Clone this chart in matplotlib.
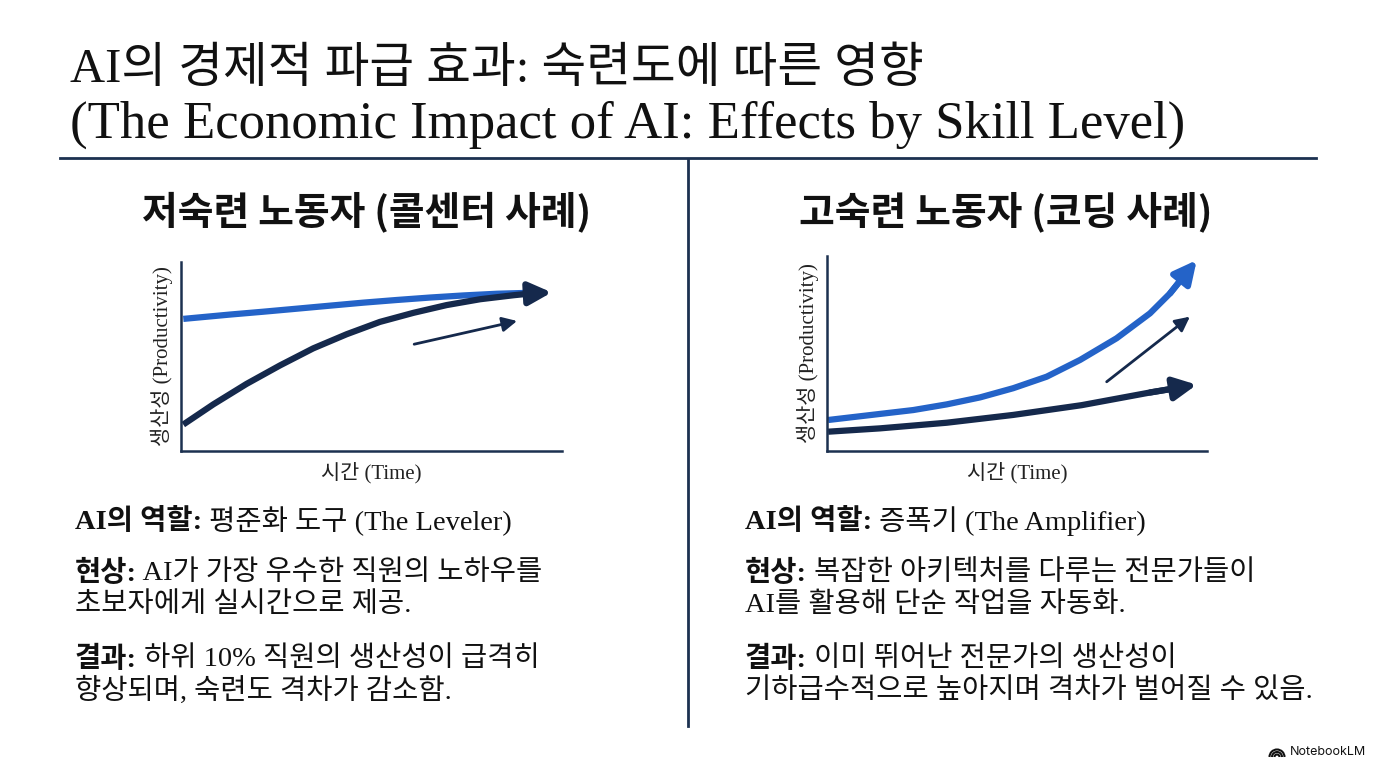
import matplotlib
matplotlib.use("Agg")
import matplotlib.pyplot as plt
from matplotlib.patches import Arc

plt.rcParams["font.family"] = ["Liberation Serif", "Noto Sans CJK KR"]

W, H = 1376, 768

# ---- data (both small charts run 0..10 on each axis) ----
# left: 저숙련 (call centre)
low_ai_x = [0.06, 1.29, 2.16, 3.04, 3.91, 4.79, 5.66, 6.54, 7.41, 8.29, 9.16]
low_ai = [6.99, 7.22, 7.37, 7.53, 7.69, 7.85, 7.99, 8.12, 8.23, 8.32, 8.37]
low_nov_x = [0.06, 0.85, 1.72, 2.60, 3.47, 4.35, 5.22, 6.10, 6.97, 7.85, 8.72, 9.16, 9.73]
low_nov = [1.40, 2.47, 3.55, 4.53, 5.43, 6.18, 6.83, 7.31, 7.72, 8.03, 8.24, 8.33, 8.39]
low_hint_x = [6.12, 8.82]
low_hint_y = [5.65, 6.88]

# right: 고숙련 (coding)
high_ai_x = [0.03, 1.39, 2.27, 3.15, 4.03, 4.90, 5.78, 6.66, 7.62, 8.50, 9.03, 9.73]
high_ai = [1.59, 1.90, 2.10, 2.39, 2.75, 3.22, 3.81, 4.67, 5.78, 7.06, 8.09, 9.79]
high_base_x = [0.03, 1.39, 3.15, 4.90, 6.70, 8.50, 9.73]
high_base = [0.99, 1.16, 1.45, 1.85, 2.35, 3.00, 3.40]
high_hint_x = [7.36, 9.55]
high_hint_y = [3.55, 6.89]

title1 = "AI의 경제적 파급 효과: 숙련도에 따른 영향"
title2 = "(The Economic Impact of AI: Effects by Skill Level)"
head_left = "저숙련 노동자 (콜센터 사례)"
head_right = "고숙련 노동자 (코딩 사례)"
xlabel = "시간 (Time)"
ylabel = "생산성 (Productivity)"

body_left = [
    ("AI의 역할:", " 평준화 도구 (The Leveler)"),
    ("현상:", " AI가 가장 우수한 직원의 노하우를"),
    ("", "초보자에게 실시간으로 제공."),
    ("결과:", " 하위 10% 직원의 생산성이 급격히"),
    ("", "향상되며, 숙련도 격차가 감소함."),
]
body_right = [
    ("AI의 역할:", " 증폭기 (The Amplifier)"),
    ("현상:", " 복잡한 아키텍처를 다루는 전문가들이"),
    ("", "AI를 활용해 단순 작업을 자동화."),
    ("결과:", " 이미 뛰어난 전문가의 생산성이"),
    ("", "기하급수적으로 높아지며 격차가 벌어질 수 있음."),
]
body_y = [521, 573, 605, 659, 691]

BLUE = "#2463c8"
NAVY = "#15294c"
RULE = "#1c3150"
INK = "#111111"


def fx(px):
    return px / W


def fy(py):
    return 1 - py / H


fig = plt.figure(figsize=(W / 100, H / 100), dpi=100)
fig.patch.set_facecolor("white")

# title
fig.text(fx(70), fy(70), title1, fontsize=35, fontweight=500, color=INK, va="center", ha="left")
fig.text(fx(70), fy(125), title2, fontsize=38, color=INK, va="center", ha="left")

# rules
fig.add_artist(plt.Line2D([fx(60), fx(1316)], [fy(158), fy(158)], color=RULE, lw=2))
fig.add_artist(plt.Line2D([fx(688), fx(688)], [fy(160), fy(726)], color=RULE, lw=2))

# panel headings
for cx, txt in [(367, head_left), (1006, head_right)]:
    fig.text(fx(cx), fy(212), txt, fontsize=28, fontweight="bold",
             family=["Noto Sans CJK KR"], color=INK, ha="center", va="center")


def make_axes(x0, x1, y_top, y_bot):
    ax = fig.add_axes([fx(x0), fy(y_bot), fx(x1 - x0), (y_bot - y_top) / H])
    ax.set_xlim(0, 10)
    ax.set_ylim(0, 10)
    ax.set_xticks([])
    ax.set_yticks([])
    for s in ["top", "right"]:
        ax.spines[s].set_visible(False)
    for s in ["left", "bottom"]:
        ax.spines[s].set_color(RULE)
        ax.spines[s].set_linewidth(1.8)
    ax.patch.set_alpha(0)
    ax.set_xlabel(xlabel, fontsize=15, color="#222222", labelpad=8)
    ax.set_ylabel(ylabel, fontsize=15, color="#222222", labelpad=6)
    return ax


def arrow_line(ax, xs, ys, color, lw=4.5, head=34):
    # body of the curve stops a little short so the butt end hides under the head
    ax.plot(xs[:-1] + [xs[-1] - 0.4 * (xs[-1] - xs[-2])],
            ys[:-1] + [ys[-1] - 0.4 * (ys[-1] - ys[-2])],
            color=color, lw=lw, solid_capstyle="butt", solid_joinstyle="round")
    ax.annotate("", xy=(xs[-1], ys[-1]), xytext=(xs[-2], ys[-2]),
                arrowprops=dict(arrowstyle="-|>", color=color, lw=lw,
                                mutation_scale=head, shrinkA=0, shrinkB=0))


def hint_arrow(ax, xs, ys):
    ax.annotate("", xy=(xs[1], ys[1]), xytext=(xs[0], ys[0]),
                arrowprops=dict(arrowstyle="-|>", color=NAVY, lw=2.0,
                                mutation_scale=22, shrinkA=0, shrinkB=0))


axl = make_axes(181, 562, 262, 451)
axl.plot(low_ai_x, low_ai, color=BLUE, lw=4.5, solid_capstyle="butt", solid_joinstyle="round")
arrow_line(axl, low_nov_x, low_nov, NAVY)
hint_arrow(axl, low_hint_x, low_hint_y)

axr = make_axes(827, 1207, 256, 451)
arrow_line(axr, high_ai_x, high_ai, BLUE)
arrow_line(axr, high_base_x, high_base, NAVY)
hint_arrow(axr, high_hint_x, high_hint_y)

# body text: bold prefix followed by regular text
renderer = fig.canvas.get_renderer()


def body(x0, lines):
    for (bold, rest), y in zip(lines, body_y):
        x = fx(x0)
        if bold:
            t = fig.text(x, fy(y), bold, fontsize=20.5, fontweight="bold", color=INK,
                         ha="left", va="center")
            x = t.get_window_extent(renderer).x1 / W
        fig.text(x, fy(y), rest, fontsize=20.5, color=INK, ha="left", va="center")


body(75, body_left)
body(745, body_right)

# NotebookLM mark: little rainbow of arcs plus the name
for r in [2.5, 5.0, 7.5]:
    fig.add_artist(Arc((fx(1277), fy(757)), 2 * r / W, 2 * r / H, theta1=0, theta2=180,
                       transform=fig.transFigure, color=INK, lw=1.5))
fig.text(fx(1290), fy(752), "NotebookLM", fontsize=9, family=["Inter", "DejaVu Sans"],
         color=INK, ha="left", va="center")

fig.savefig("out.png", dpi=100, facecolor="white")
